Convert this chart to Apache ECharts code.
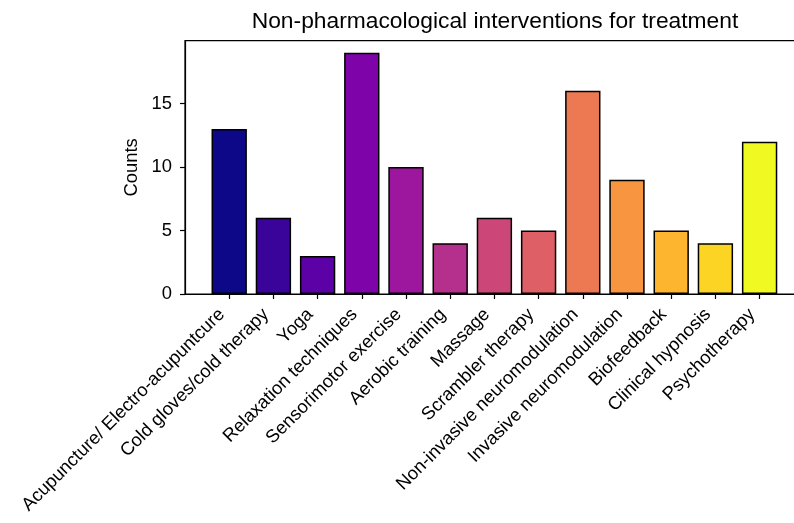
<!DOCTYPE html>
<html>
<head>
<meta charset="utf-8">
<script src="https://cdn.jsdelivr.net/npm/echarts@6/dist/echarts.min.js"></script>
<style>
html,body{margin:0;padding:0;background:#fff;}
#chart{width:794px;height:523px;}
</style>
</head>
<body>
<div id="chart"></div>
<script>
const categories = [
  'Acupuncture/ Electro-acupuntcure',
  'Cold gloves/cold therapy',
  'Yoga',
  'Relaxation techniques',
  'Sensorimotor exercise',
  'Aerobic training',
  'Massage',
  'Scrambler therapy',
  'Non-invasive neuromodulation',
  'Invasive neuromodulation',
  'Biofeedback',
  'Clinical hypnosis',
  'Psychotherapy'
];
const counts = [13, 6, 3, 19, 10, 4, 6, 5, 16, 9, 5, 4, 12];
const barColors = [
  '#0d0887', '#3a049a', '#5c01a6', '#7e03a8', '#9c179e', '#b52f8c', '#cc4778',
  '#de5f65', '#ed7953', '#f89540', '#fdb42f', '#fbd424', '#f0f921'
];
const yTicks = [0, 5, 10, 15];
const titleText = 'Non-pharmacological interventions for treatment';
const yName = 'Counts';

const FONT = '"Liberation Sans", Arial, Helvetica, sans-serif';
const paddedCats = [''].concat(categories, ['']);
const barData = ['-'].concat(counts.map((v, i) => ({
  value: v,
  itemStyle: { color: barColors[i] }
})), ['-']);
const lastIdx = paddedCats.length - 1;

const chart = echarts.init(document.getElementById('chart'), null, { renderer: 'canvas' });
chart.setOption({
  animation: false,
  backgroundColor: '#ffffff',
  graphic: [{
    type: 'text',
    x: 495,
    y: 21.5,
    style: {
      text: titleText,
      align: 'center',
      verticalAlign: 'middle',
      fontFamily: FONT,
      fontSize: 22.8,
      fill: '#000'
    }
  }],
  grid: {
    left: 185,
    top: 40.7,
    width: 618.8,
    height: 253.3,
    show: true,
    borderColor: '#000',
    borderWidth: 1.2,
    backgroundColor: 'transparent',
    containLabel: false,
    outerBoundsMode: 'none'
  },
  xAxis: {
    type: 'category',
    data: paddedCats,
    boundaryGap: false,
    axisLine: { show: true, lineStyle: { color: '#000', width: 1.2 } },
    axisTick: {
      show: true,
      length: 5,
      lineStyle: { color: '#000', width: 1.2 },
      interval: (idx) => idx > 0 && idx < lastIdx
    },
    axisLabel: {
      interval: (idx) => idx > 0 && idx < lastIdx,
      hideOverlap: false,
      rotate: 45,
      margin: 25,
      fontFamily: FONT,
      fontSize: 18.4,
      color: '#000',
      lineHeight: 21,
      verticalAlign: 'bottom'
    },
    splitLine: { show: false }
  },
  yAxis: {
    type: 'value',
    min: 0,
    max: 19.95,
    interval: 5,
    name: yName,
    nameLocation: 'middle',
    nameRotate: 90,
    nameGap: 41,
    nameTextStyle: { fontFamily: FONT, fontSize: 18.4, color: '#000' },
    axisLine: { show: true, lineStyle: { color: '#000', width: 1.2 } },
    axisTick: { show: true, length: 5, lineStyle: { color: '#000', width: 1.2 }, customValues: yTicks },
    axisLabel: { fontFamily: FONT, fontSize: 18.4, color: '#000', margin: 13, customValues: yTicks },
    splitLine: { show: false }
  },
  series: [{
    type: 'bar',
    data: barData,
    barWidth: '80%',
    itemStyle: { borderColor: '#000', borderWidth: 1.5 }
  }]
});
</script>
</body>
</html>
